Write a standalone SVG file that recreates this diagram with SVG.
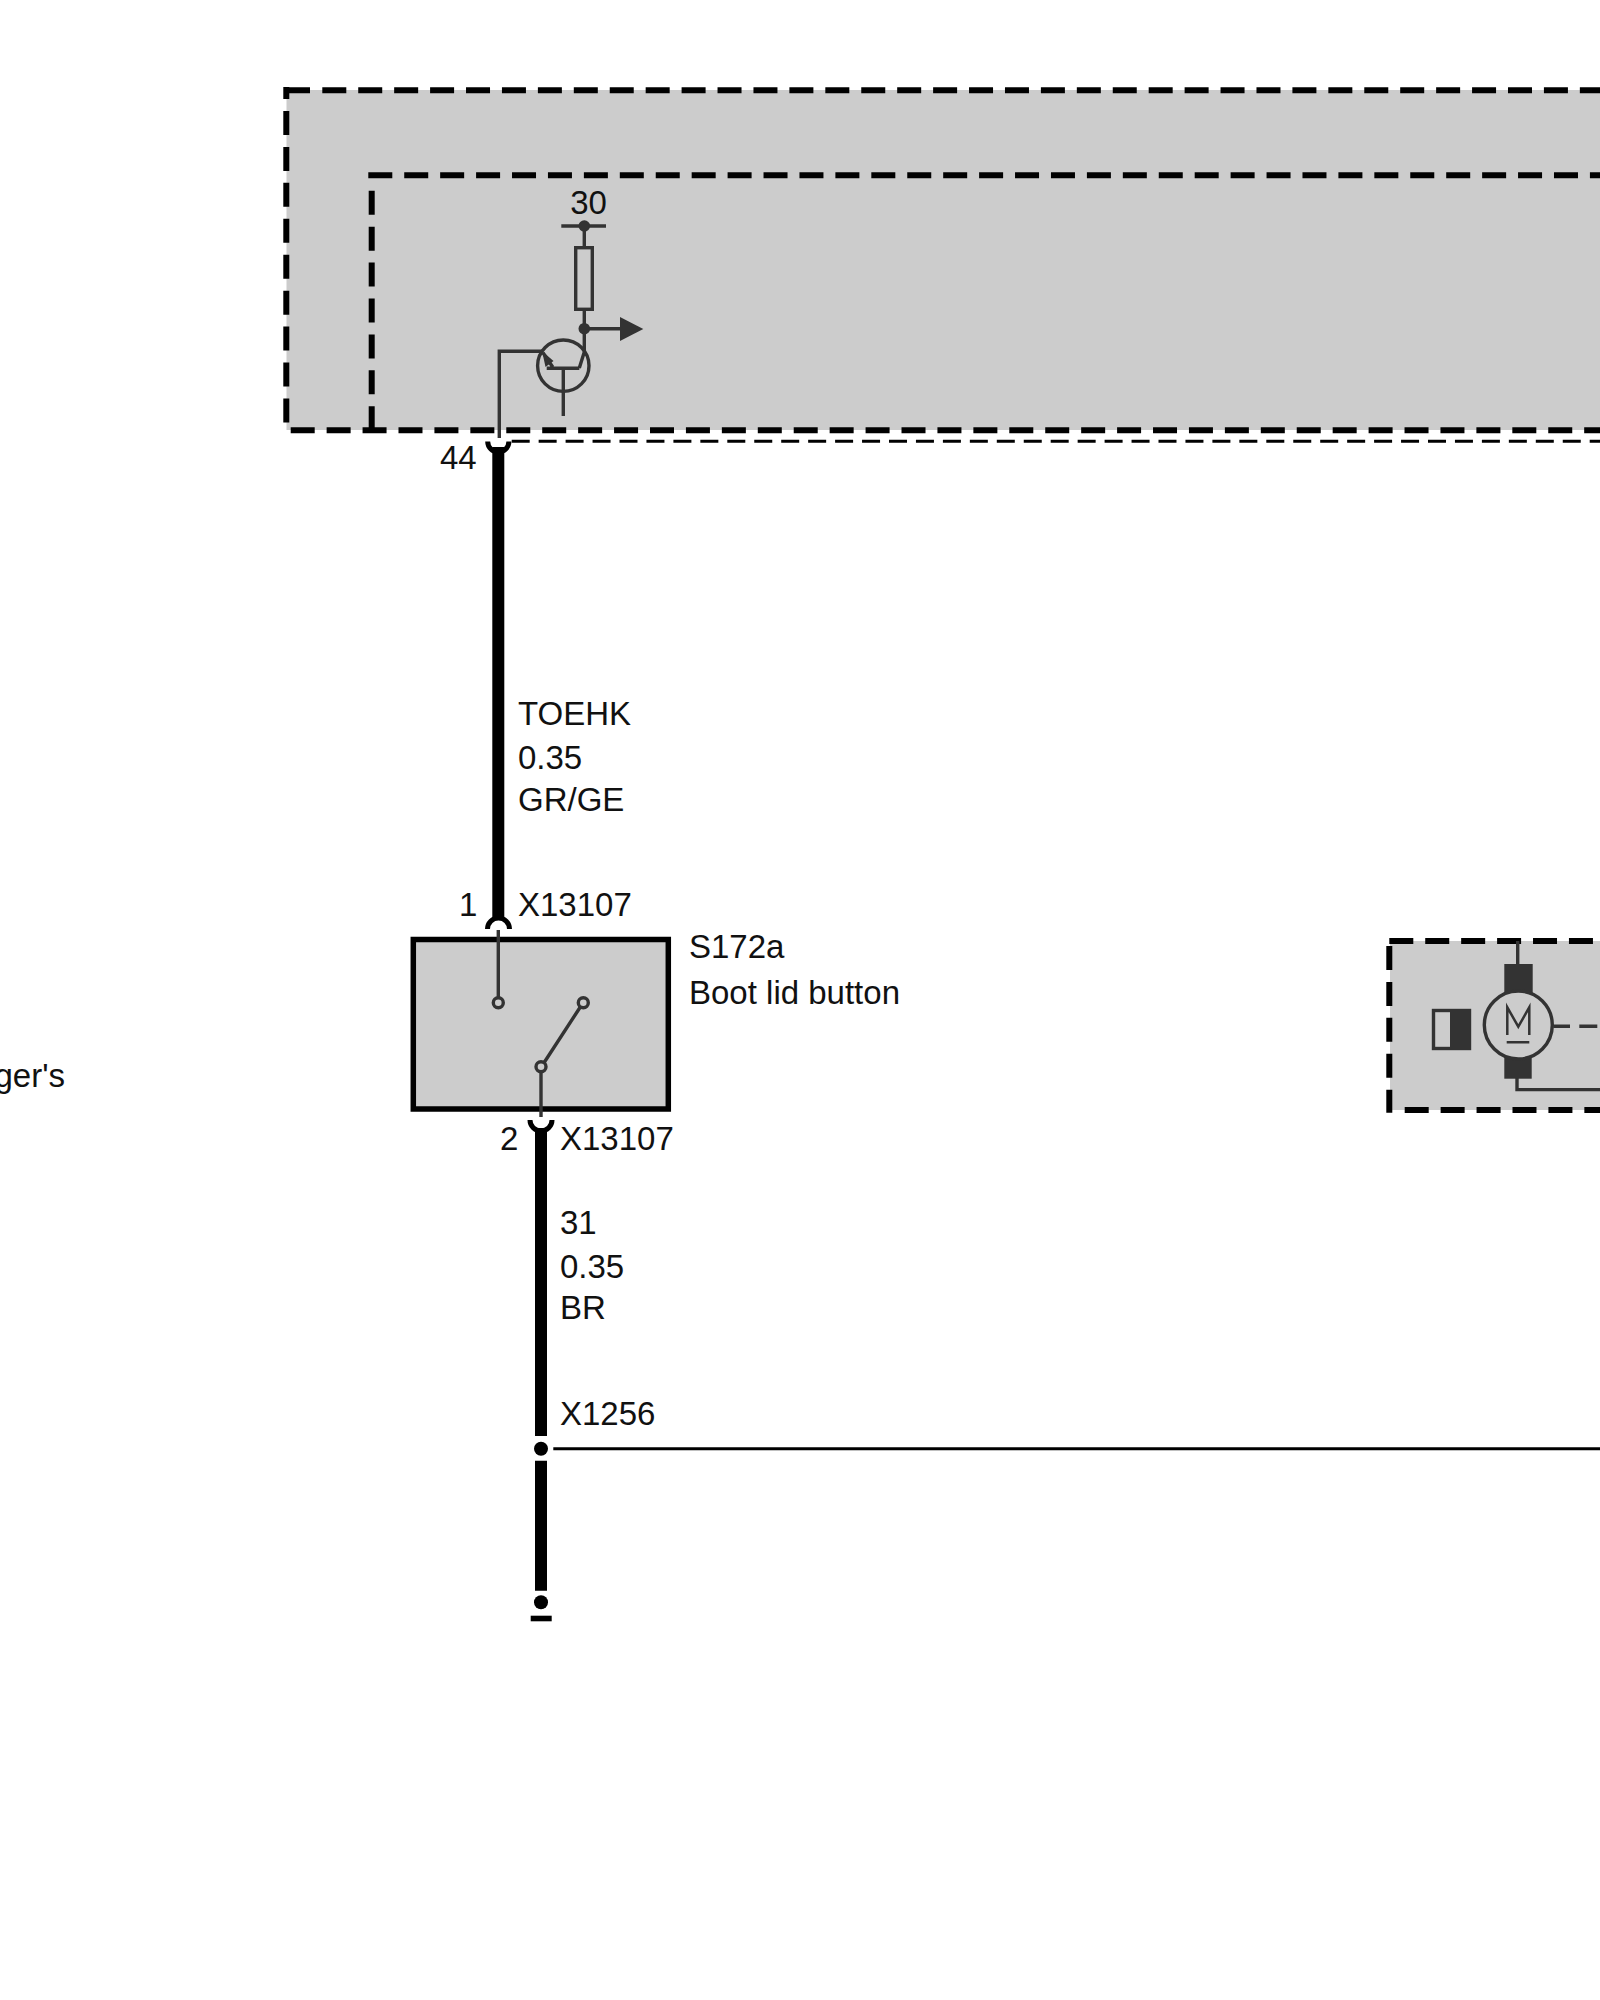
<svg xmlns="http://www.w3.org/2000/svg" width="1600" height="2000" viewBox="0 0 1600 2000">
<style>
text{font-family:"Liberation Sans",Arial,sans-serif;font-size:33px;fill:#111}
.area{fill:#ccc;stroke:none}
.dash{fill:none;stroke:#000;stroke-width:6;stroke-dasharray:24 11.930}
.solid{fill:none;stroke:#000;stroke-width:6}
.dash2{fill:none;stroke:#000;stroke-width:3;stroke-dasharray:18 8.950}
.wire{fill:none;stroke:#000;stroke-width:12}
.thin{fill:none;stroke:#000;stroke-width:3}
.sym{fill:none;stroke:#333;stroke-width:3.400}
.dark{fill:#333;stroke:none}
.pin{fill:none;stroke:#000;stroke-width:5}
</style>
<rect width="1600" height="2000" fill="#fff"/>
<g id="control-unit">
<rect class="area" x="286.500" y="90" width="1313.500" height="340"/>
<path class="solid" d="M283.300 90.300H310M286.300 87V99"/>
<path class="dash" d="M322.300 90.300H1600"/>
<path class="dash" d="M286.300 111V424"/>
<path class="dash" d="M290.700 430.300H1600"/>
<path class="dash" d="M368.300 175.300H1600"/>
<path class="dash" d="M371.700 190.700V430"/>
<path class="dash2" d="M511.700 441.300H1600"/>
<path class="sym" d="M561.300 226H606M584.300 226V247.700M584.300 309.300V352L579.300 368M584.300 328.700H622M546.700 368.300H579.300M563.300 368.300V416M552.700 367L543 352.700M499.300 438V351.300H543"/>
<rect class="sym" x="575.700" y="247.700" width="16.600" height="61.600"/>
<circle class="sym" cx="563.300" cy="365.700" r="25.700"/>
<circle class="dark" cx="584.300" cy="226" r="5.800"/>
<circle class="dark" cx="584.300" cy="328.700" r="5.800"/>
<path class="dark" d="M620 317L643.300 329L620 341Z"/>
<path class="dark" d="M542 351L553.500 361L545.500 367Z"/>
<text x="588.500" y="213.500" text-anchor="middle">30</text>
<text x="440" y="469">44</text>
</g>
<g id="switch-s172a">
<rect x="413.300" y="939.500" width="255" height="169.500" fill="#ccc" stroke="#000" stroke-width="5.500"/>
<path class="sym" d="M498.300 930V997.700M541 1071.700V1117M544 1062.700L580.300 1007"/>
<circle class="sym" cx="498.300" cy="1002.700" r="5"/>
<circle class="sym" cx="583.300" cy="1002.700" r="5"/>
<circle class="sym" cx="541" cy="1066.700" r="5"/>
<text x="689" y="958">S172a</text>
<text x="689" y="1003.500">Boot lid button</text>
</g>
<g id="motor">
<rect class="area" x="1390" y="941" width="210" height="169"/>
<path class="dash" d="M1389.300 941H1600"/>
<path class="dash" d="M1389.300 946V1112.700"/>
<path class="dash" d="M1404.700 1110H1600"/>
<path class="sym" d="M1517.700 941V964M1517 1078V1089.600H1600M1553.300 1026.300H1570M1579.300 1026.300H1597.300"/>
<rect class="dark" x="1504.300" y="964" width="28.400" height="30"/>
<rect class="dark" x="1504.300" y="1056" width="27.400" height="22.700"/>
<circle cx="1518.300" cy="1025" r="34" fill="#ccc" stroke="#333" stroke-width="3.400"/>
<path d="M1507.300 1035V1007.300L1518.300 1026.700L1529.300 1007.300V1035M1506.700 1042.300H1529.300" fill="none" stroke="#333" stroke-width="2.500"/>
<rect class="sym" x="1433.500" y="1010.500" width="36" height="38"/>
<rect class="dark" x="1450" y="1009" width="21" height="41"/>
</g>
<g id="connectors">
<path class="wire" d="M498.300 447V920"/>
<path class="wire" d="M541 1128V1436M541 1460.700V1590.700"/>
<path class="pin" d="M487.700 441.500A10.600 10.600 0 0 0 508.900 441.500"/>
<path class="pin" d="M487.500 929A11 11 0 0 1 509.500 929"/>
<path class="pin" d="M530 1120A11 11 0 0 0 552 1120"/>
<path class="thin" d="M553.300 1448.700H1600"/>
<circle cx="541" cy="1448.700" r="7"/>
<circle cx="541" cy="1602.300" r="7"/>
<rect x="530.700" y="1615.700" width="21" height="5.600"/>
</g>
<g id="labels">
<text x="518" y="725">TOEHK</text>
<text x="518" y="768.500">0.35</text>
<text x="518" y="811">GR/GE</text>
<text x="459" y="916">1</text>
<text x="518" y="916">X13107</text>
<text x="500" y="1150">2</text>
<text x="560" y="1150">X13107</text>
<text x="560" y="1233.500">31</text>
<text x="560" y="1278">0.35</text>
<text x="560" y="1319">BR</text>
<text x="560" y="1425">X1256</text>
<text x="65" y="1087" text-anchor="end">ger's</text>
</g>
</svg>
